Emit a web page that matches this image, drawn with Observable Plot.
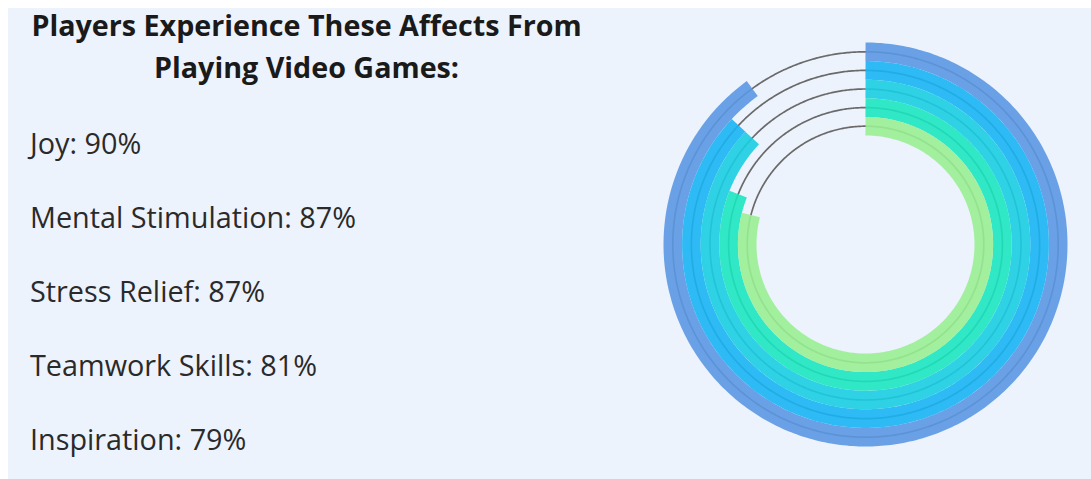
<!DOCTYPE html>
<html>
<head>
<meta charset="utf-8">
<script src="https://cdn.jsdelivr.net/npm/d3@7"></script>
<script src="https://cdn.jsdelivr.net/npm/@observablehq/plot@0.6"></script>
<style>
  html, body { margin: 0; padding: 0; background: #ffffff; width: 1091px; height: 479px; overflow: hidden; }
  #panel { position: absolute; left: 8px; top: 8px; width: 1083px; height: 471px; background: #EDF3FC; }
  #title { position: absolute; left: 0px; top: -4px; width: 597px; text-align: center;
           font-family: "Open Sans", sans-serif; font-weight: 700; font-size: 28.7px; line-height: 41.5px; color: #1a1a1a; white-space: nowrap; }
  .item { position: absolute; left: 22px; font-family: "Open Sans", sans-serif; font-size: 28.8px; line-height: normal; color: #2a2a2a; white-space: nowrap; }
  #chart { position: absolute; left: 639px; top: 18px; }
</style>
</head>
<body>
<div id="panel">
  <div id="title"></div>
  <div id="items"></div>
  <div id="chart"></div>
</div>
<script>
const titleLines = ["Players Experience These Affects From", "Playing Video Games:"];
const categories = ["Joy", "Mental Stimulation", "Stress Relief", "Teamwork Skills", "Inspiration"];
const values = [90, 87, 87, 81, 79];
const colors = ["#5B98E3", "#18B4F3", "#19CEE2", "#1BE5C0", "#99EE94"];

// Title and list
document.getElementById("title").innerHTML = titleLines.map(t => `<div>${t}</div>`).join("");
const itemBaselines = [154, 228, 302, 376, 450];
const itemsDiv = document.getElementById("items");
categories.forEach((c, i) => {
  const d = document.createElement("div");
  d.className = "item";
  d.style.top = (itemBaselines[i] - 8 - 1.069 * 28.8) + "px";
  d.textContent = `${c}: ${values[i]}%`;
  itemsDiv.appendChild(d);
});

// Radial bar geometry (in data units of the x/y scales)
const outerR = 202, thick = 18.6, half = 218;
const ringR = categories.map((c, i) => outerR - (i + 0.5) * thick);

const arcs = [];
const tracks = [];
categories.forEach((c, i) => {
  const r = ringR[i];
  const end = values[i] / 100 * 2 * Math.PI;
  const n = Math.ceil(values[i] * 4);
  for (let k = 0; k <= n; k++) {
    const a = end * k / n;
    arcs.push({cat: c, x: r * Math.sin(a), y: r * Math.cos(a)});
  }
  for (let k = 0; k <= 720; k++) {
    const a = 2 * Math.PI * k / 720;
    tracks.push({cat: c, x: r * Math.sin(a), y: r * Math.cos(a)});
  }
});

const chart = Plot.plot({
  width: 2 * half,
  height: 2 * half,
  margin: 0,
  style: {background: "transparent"},
  x: {domain: [-half, half], axis: null},
  y: {domain: [-half, half], axis: null},
  color: {domain: categories, range: colors},
  marks: [
    Plot.line(tracks, {x: "x", y: "y", z: "cat", stroke: "#6a6a6a", strokeWidth: 1.7, curve: "linear"}),
    Plot.line(arcs, {x: "x", y: "y", z: "cat", stroke: "cat", strokeWidth: thick, strokeOpacity: 0.9, strokeLinecap: "butt", strokeLinejoin: "round", curve: "linear"})
  ]
});
document.getElementById("chart").appendChild(chart);
</script>
</body>
</html>
